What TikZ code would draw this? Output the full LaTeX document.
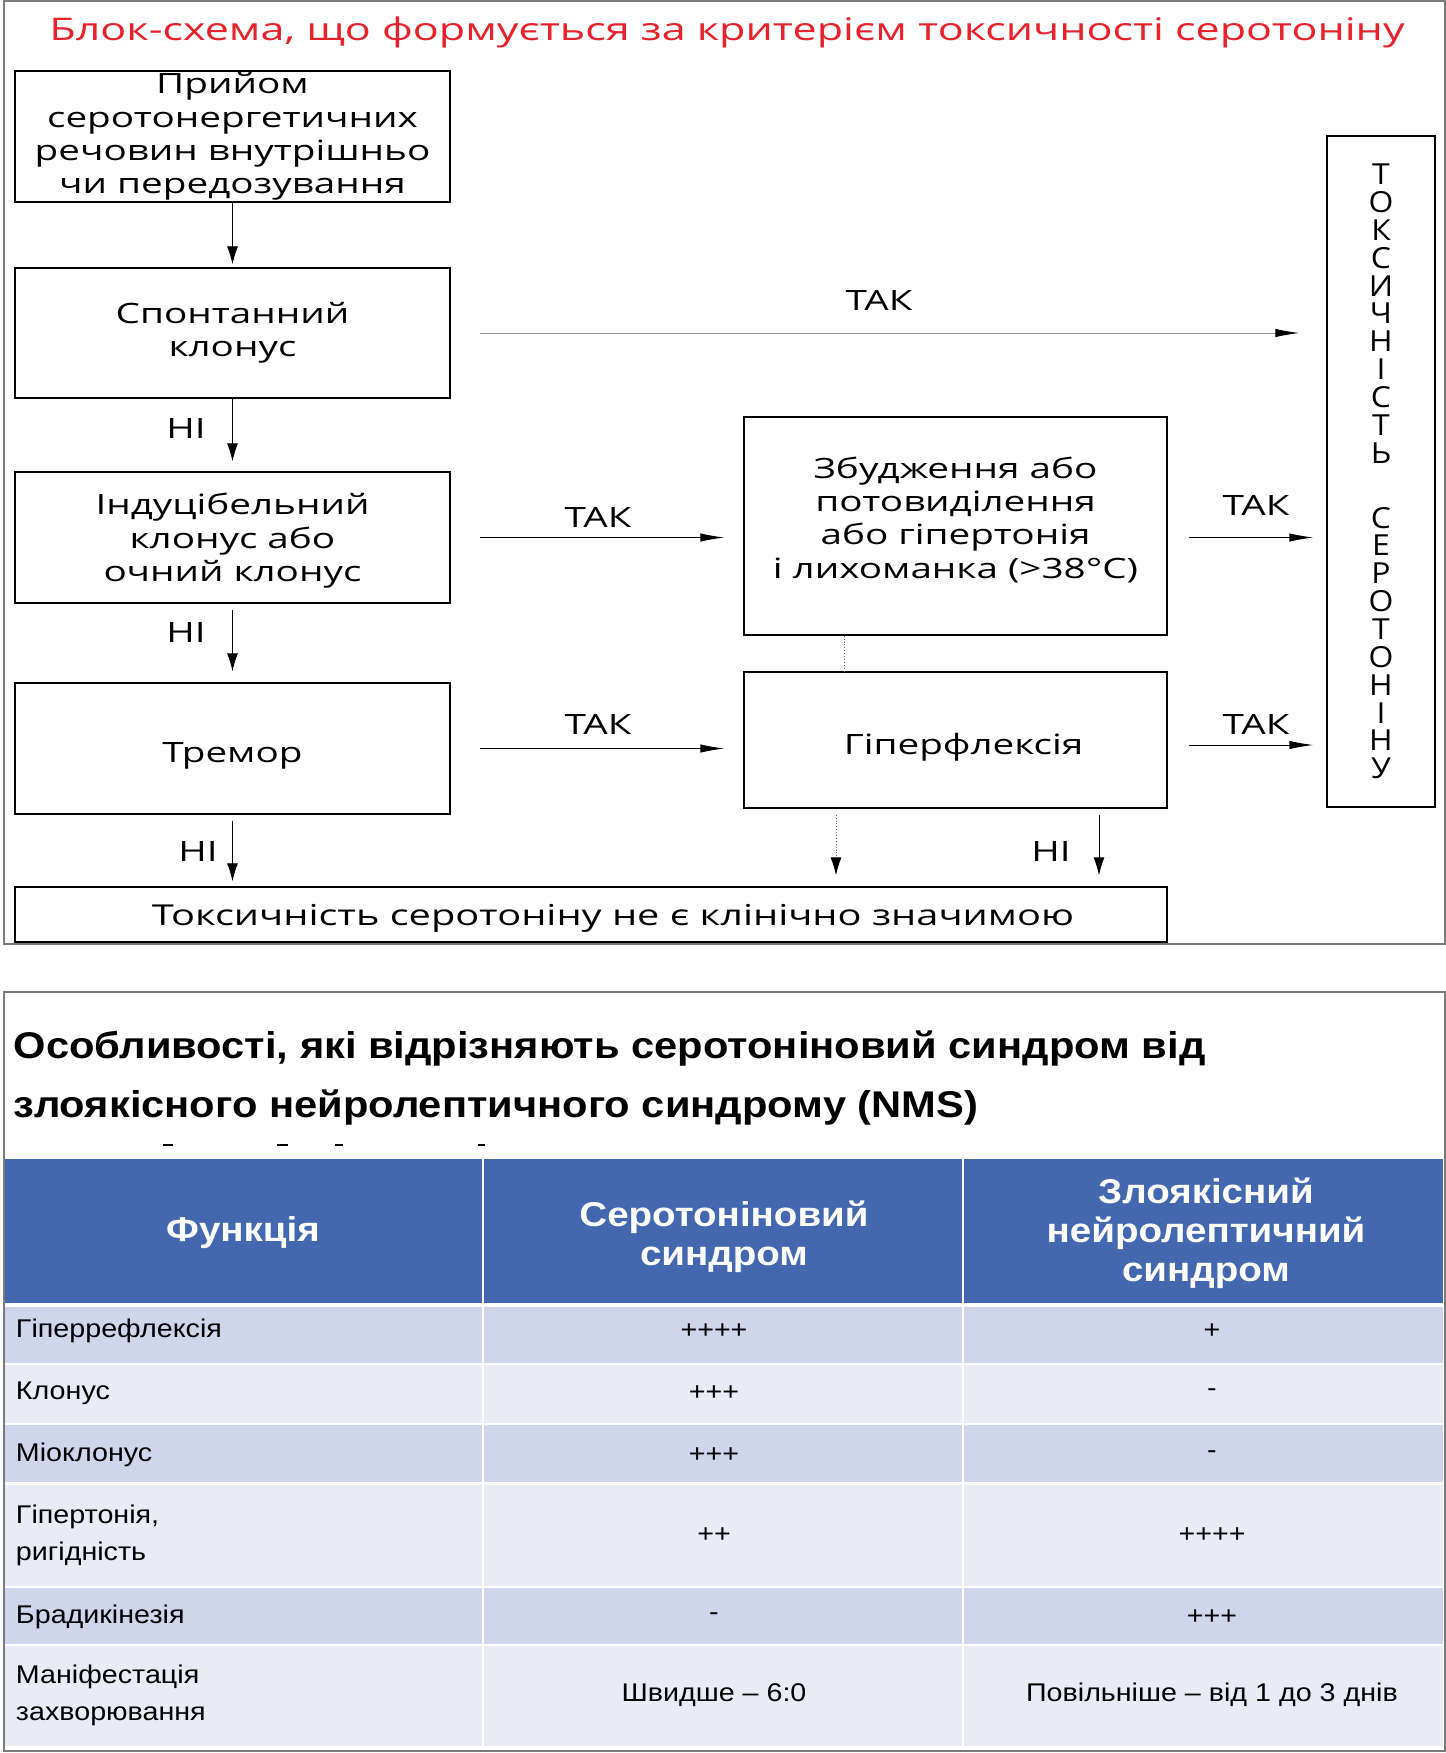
\documentclass[tikz,border=0pt]{standalone}
\usepackage{fontspec}
\usetikzlibrary{arrows.meta,positioning,calc}
\setmainfont{Open Sans}
\newfontfamily\flowfont[FakeStretch=1.38]{Open Sans}
\newfontfamily\vertfont[FakeStretch=1.1]{Open Sans}
\newfontfamily\tabfont[FakeStretch=1.12]{Liberation Sans}
\definecolor{FlowRed}{HTML}{E8212B}
\definecolor{FlowGrayLine}{HTML}{969696}
\definecolor{FrameGray}{HTML}{7A7A7A}
\definecolor{TabBlue}{HTML}{4468B0}
\definecolor{TabBandA}{HTML}{CFD5EA}
\definecolor{TabBandB}{HTML}{E9EBF5}

\begin{document}
\begin{tikzpicture}[x=0.5pt,y=-0.5pt,
  flowbox/.style={draw,line width=0.7pt,inner sep=0pt,align=center,font=\flowfont\fontsize{14}{16.7}\selectfont},
  answer/.style={inner sep=0pt,font=\flowfont\fontsize{14}{16}\selectfont},
  varr/.style={-{Latex[length=9pt,width=5.5pt]},line width=0.45pt},
  harr/.style={-{Latex[length=12pt,width=4.2pt]},line width=0.45pt},
  headcell/.style={inner sep=0pt,align=center,text=white,font=\tabfont\bfseries\fontsize{17.2}{19.5}\selectfont},
  bodycell/.style={inner sep=0pt,align=left,font=\tabfont\fontsize{12.8}{18.5}\selectfont},
  tabhead/.style={inner sep=0pt,anchor=base west,font=\tabfont\bfseries\fontsize{18.6}{22}\selectfont},
]
\useasboundingbox (0,0) rectangle (1446,1753);
\fill[white] (0,0) rectangle (1446,1753);

% flow chart panel
\draw[FrameGray,line width=0.9pt] (4,1) rectangle (1445,944);
\node[anchor=base,text=FlowRed,font=\flowfont\fontsize{15.6}{18}\selectfont] (flowtitle) at (727,40) {Блок-схема, що формується за критерієм токсичності серотоніну};

\node[flowbox,minimum width=217.5pt,minimum height=65.5pt] (intake) at (232.5,136.5) {Прийом\\серотонергетичних\\речовин внутрішньо\\чи передозування};
\node[flowbox,minimum width=217.5pt,minimum height=65pt] (spont) at (232.5,333) {Спонтанний\\клонус};
\node[flowbox,minimum width=217.5pt,minimum height=65.5pt] (induc) at (232.5,537.5) {\rule{0pt}{14pt}Індуцібельний\\клонус або\\очний клонус};
\node[flowbox,minimum width=217.5pt,minimum height=65.5pt] (tremor) at (232.5,748.5) {\rule{0pt}{17pt}Тремор};
\node[flowbox,minimum width=211.5pt,minimum height=109pt] (agit) at (955.5,526) {Збудження або\\потовиділення\\або гіпертонія\\і лихоманка (>38°C)\rule[-8.5pt]{0pt}{1pt}};
\node[flowbox,minimum width=211.5pt,minimum height=68pt] (hyperfl) at (955.5,740) {\rule{0pt}{17.5pt}\hspace*{8pt}Гіперфлексія};
\node[flowbox,minimum width=576pt,minimum height=27.5pt,font=\flowfont\fontsize{14.4}{16.7}\selectfont] (notsig) at (591,914.5) {\rule{0pt}{14.5pt}\hspace*{22pt}Токсичність серотоніну не є клінічно значимою};
\node[flowbox,minimum width=54pt,minimum height=335.5pt,font=\vertfont\fontsize{14.5}{13.93}\selectfont] (toxic) at (1381,471.5)
  {Т\\О\\К\\С\\И\\Ч\\Н\\І\\С\\Т\\Ь\\[18.5pt]С\\Е\\Р\\О\\Т\\О\\Н\\І\\Н\\У};

\coordinate (dotjoin) at ($(agit.south)+(-111.5,0)$);
\coordinate (hyplow) at ($(hyperfl.south)+(-119.5,0)$);
\coordinate (hyphigh) at ($(hyperfl.south)+(143.5,0)$);

\draw[varr,shorten >=1.5pt] (intake.south) -- (spont.north);
\draw[varr,shorten >=5pt] (spont.south) -- (induc.north);
\draw[varr,shorten <=3pt,shorten >=5.5pt] (induc.south) -- (tremor.north);
\draw[varr,shorten <=3pt,shorten >=2.5pt] (tremor.south) -- (tremor.south |- notsig.north);
\draw[varr,FlowGrayLine!70!black,densely dotted,-{Latex[length=9pt,width=5.5pt,color=black]},shorten <=3pt,shorten >=5.5pt] (hyplow) -- (hyplow |- notsig.north);
\draw[varr,shorten <=3pt,shorten >=5.5pt] (hyphigh) -- (hyphigh |- notsig.north);
\draw[FlowGrayLine!70!black,densely dotted,line width=0.45pt] (dotjoin) -- (dotjoin |- hyperfl.north);

\draw[harr,FlowGrayLine,-{Latex[length=12pt,width=4.2pt,color=black]},shorten <=14.5pt,shorten >=13.5pt] (spont.east) -- (spont.east -| toxic.west);
\draw[harr,shorten <=14.5pt,shorten >=9.5pt] (induc.east) -- (induc.east -| agit.west);
\draw[harr,shorten <=14.5pt,shorten >=9.5pt] (tremor.east) -- (tremor.east -| hyperfl.west);
\draw[harr,shorten <=10.5pt,shorten >=6.5pt] (agit.east |- induc.east) -- (toxic.west |- induc.east);
\draw[harr,shorten <=10.5pt,shorten >=6.5pt] ([yshift=-2.5pt]hyperfl.east) -- ([yshift=-2.5pt]hyperfl.east -| toxic.west);

\node[answer] (yes1) at (879,300) {ТАК};
\node[answer] (yes2) at (598,517) {ТАК};
\node[answer] (yes3) at (598,724) {ТАК};
\node[answer] (yes4) at (1256,505) {ТАК};
\node[answer] (yes5) at (1256,724) {ТАК};
\node[answer] (no1) at (186,428) {НІ};
\node[answer] (no2) at (186,632) {НІ};
\node[answer] (no3) at (198,851) {НІ};
\node[answer] (no4) at (1051,851) {НІ};

% comparison table panel
\draw[FrameGray,line width=0.9pt] (4,992) rectangle (1445,1751);
\node[tabhead] (tabtitle1) at (13.5,1058) {Особливості, які відрізняють серотоніновий синдром від};
\node[tabhead] (tabtitle2) at (13.5,1117) {злоякісного нейролептичного синдрому (NMS)};
\foreach \xa/\xb in {163/173,277/288,335/343,478/485}
  \draw[line width=0.6pt] (\xa,1145) -- (\xb,1145);

\fill[TabBlue] (4.5,1159) rectangle (1443,1303);
\foreach \ytop/\ybot/\band in {1307/1363/TabBandA,1365/1423/TabBandB,1425/1482/TabBandA,1485/1586/TabBandB,1588/1644/TabBandA,1646/1746/TabBandB}
  \fill[\band] (4.5,\ytop) rectangle (1443,\ybot);
\foreach \xs in {483,963}
  \draw[white,line width=1pt] (\xs,1159) -- (\xs,1746);

\node[headcell] (headfunc) at (243,1233) {Функція};
\node[headcell] (headsero) at (724,1237) {Серотоніновий\\синдром};
\node[headcell] (headnms) at (1206,1233) {Злоякісний\\нейролептичний\\синдром};

\foreach \name/\yc/\feat/\sero/\nms in {hyper/1331/Гіперрефлексія/++++/+,
    clonus/1393/Клонус/+++/-,
    myoclon/1455/Міоклонус/+++/-,
    rigid/1535/{Гіпертонія,\\ригідність}/++/++++,
    brady/1617/Брадикінезія/-/+++,
    onset/1695/{Маніфестація\\захворювання}/Швидше – 6:0/Повільніше – від 1 до 3 днів}
{
  \node[bodycell,anchor=west] (\name-feat) at (15.6,\yc) {\feat};
  \node[bodycell] (\name-sero) at (714,\yc) {\sero};
  \node[bodycell] (\name-nms) at (1212,\yc) {\nms};
}
\end{tikzpicture}
\end{document}
